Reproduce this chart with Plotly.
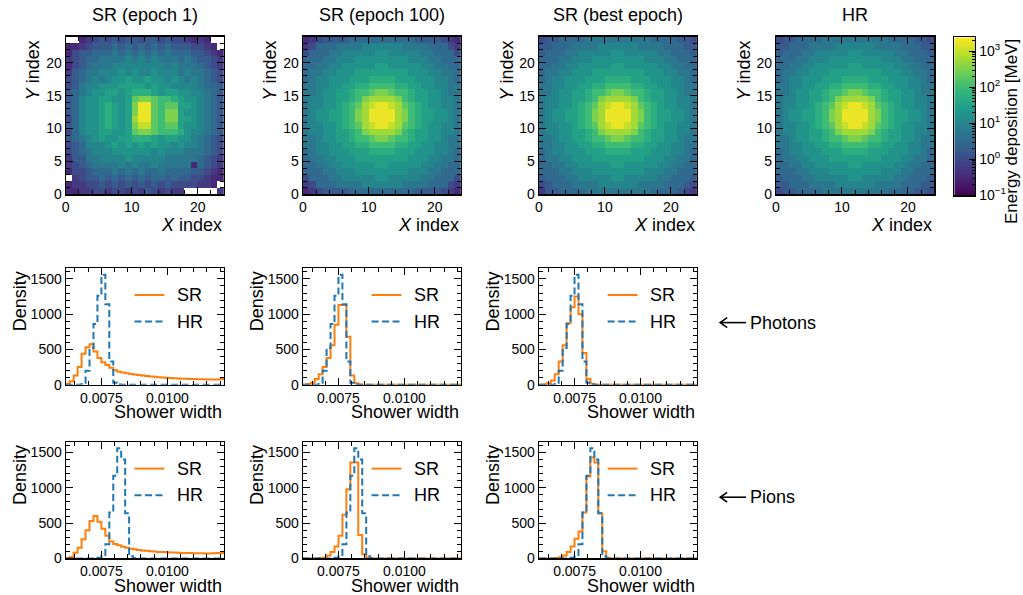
import numpy as np
import plotly.graph_objects as go

W, H = 1023, 595
FONT = "Liberation Sans, Arial, Helvetica, sans-serif"

# ---------------- heat-map data ----------------
# one character per cell: level k -> log10(E / MeV) = -1 + 0.25 * k ; '.' = empty cell
# rows listed from the top (Y = 23) down to the bottom (Y = 0), X = 0..23 left to right
LEVEL_CODE = "0123456789abcdefghi"
Z_MIN, Z_MAX = -1.0, 3.38

SR_EPOCH1_ROWS = [
    "..2345 454554 554544 3232..",
    "223455 565656 565655 54432.",
    "245566 676767 676766 655432",
    "345667 777878 787776 765543",
    "245677 788888 888787 776543",
    "356778 889898 898887 877654",
    "456787 899a99 a99898 787654",
    "457889 99aaaa 9a9988 887665",
    "567899 aa9abb ba9aa9 988765",
    "56899a a99ade edccba 998765",
    "56899a ba9aeh hdcdda a98765",
    "56899a ba9aeh hdceea 998765",
    "46899a ba9afh hdceea a98765",
    "56899a ba9aeg gdcdda 998765",
    "46899a a99ade edcccb 988765",
    "56789a 99aabb ba9aa9 987654",
    "456888 9a9a9a 9a9989 887654",
    "456788 899999 989888 777654",
    "355778 888988 888777 776543",
    "345677 778787 787777 726543",
    "244566 676767 667666 655432",
    ".34556 565656 566565 544322",
    "233445 454545 454544 44332.",
    "223344 344343 543433 .....3",
]

SR_EPOCH100_ROWS = [
    "234555 566666 666665 555432",
    "346667 777888 888777 766643",
    "466677 888889 988888 776664",
    "666778 889999 999988 877666",
    "667788 99999a a99999 887766",
    "677889 99aaaa aaaa99 988776",
    "678899 9aaabb bbaaa9 998876",
    "778899 aabbcc ccbbaa 998877",
    "77899a abccde edccba a99877",
    "78899a abceff ffecba a99887",
    "78899a bcdfgh hgfdcb a99887",
    "7899aa bcefhh hhfecb aa9987",
    "7899aa bcefhh hhfecb aa9987",
    "78899a bcdfgh hgfdcb a99887",
    "78899a abceff ffecba a99887",
    "77899a abccde edccba a99877",
    "778899 aabbcc ccbbaa 998877",
    "678899 9aaabb bbaaa9 998876",
    "677889 99aaaa aaaa99 988776",
    "667788 99999a a99999 887766",
    "666778 889999 999988 877666",
    "466677 888889 988888 776664",
    "346667 777888 888777 766643",
    "234555 566666 666665 555432",
]

SR_BEST_ROWS = [
    "455666 677777 777776 666554",
    "556667 777888 888777 766655",
    "566677 888889 988888 776665",
    "666778 889999 999988 877666",
    "667788 99999a a99999 887766",
    "677889 99aaaa aaaa99 988776",
    "678899 9aaabb bbaaa9 998876",
    "778899 aabbcc ccbbaa 998877",
    "77899a abccde edccba a99877",
    "78899a abceff ffecba a99887",
    "78899a bcdfgh hgfdcb a99887",
    "7899aa bcefhh hhfecb aa9987",
    "7899aa bcefhh hhfecb aa9987",
    "78899a bcdfgh hgfdcb a99887",
    "78899a abceff ffecba a99887",
    "77899a abccde edccba a99877",
    "778899 aabbcc ccbbaa 998877",
    "678899 9aaabb bbaaa9 998876",
    "677889 99aaaa aaaa99 988776",
    "667788 99999a a99999 887766",
    "666778 889999 999988 877666",
    "566677 888889 988888 776665",
    "456667 777888 888777 766654",
    "355666 677777 777776 666543",
]

HR_ROWS = [
    "455666 677777 777776 666554",
    "556667 777888 888777 766655",
    "566677 888889 988888 776665",
    "666778 889999 999988 877666",
    "667788 99999a a99999 887766",
    "677889 99aaaa aaaa99 988776",
    "678899 9aaabb bbaaa9 998876",
    "778899 aabbcc ccbbaa 998877",
    "77899a abccde edccba a99877",
    "78899a abceff ffecba a99887",
    "78899a bcdfgh hgfdcb a99887",
    "7899aa bcefhh hhfecb aa9987",
    "7899aa bcefhh hhfecb aa9987",
    "78899a bcdfgh hgfdcb a99887",
    "78899a abceff ffecba a99887",
    "77899a abccde edccba a99877",
    "778899 aabbcc ccbbaa 998877",
    "678899 9aaabb bbaaa9 998876",
    "677889 99aaaa aaaa99 988776",
    "667788 99999a a99999 887766",
    "666778 889999 999988 877666",
    "566677 888889 988888 776665",
    "556667 777888 888777 766655",
    "455666 677777 777776 666554",
]

HEAT_TITLES = ["SR (epoch 1)", "SR (epoch 100)", "SR (best epoch)", "HR"]
HEAT_DATA = [SR_EPOCH1_ROWS, SR_EPOCH100_ROWS, SR_BEST_ROWS, HR_ROWS]
N_CELLS = 24

# ---------------- histogram data (density per bin) ----------------
BIN_LO, BIN_W, N_BINS = 0.00615, 0.00015, 40

PH_HR = [0, 0, 0, 0, 30, 200, 520, 860, 1260, 1560,
         1140, 330, 30, 3, 0, 0, 0, 0, 0, 0,
         0, 0, 0, 0, 0, 0, 0, 0, 0, 0,
         0, 0, 0, 0, 0, 0, 0, 0, 0, 0]
PI_HR = [0, 0, 0, 0, 0, 0, 0, 0, 10, 30,
         200, 650, 1170, 1560, 1400, 640, 30, 3, 0, 0,
         0, 0, 0, 0, 0, 0, 0, 0, 0, 0,
         0, 0, 0, 0, 0, 0, 0, 0, 0, 0]

PH_SR_E1 = [15, 50, 130, 250, 440, 530, 575, 470, 380, 320,
            280, 240, 205, 185, 172, 162, 153, 145, 138, 130,
            123, 117, 112, 107, 102, 98, 95, 92, 89, 86,
            84, 82, 80, 78, 77, 76, 75, 75, 76, 82]
PH_SR_E100 = [0, 10, 30, 80, 150, 250, 380, 560, 850, 1130,
              1130, 680, 130, 20, 3, 0, 0, 0, 0, 0,
              0, 0, 0, 0, 0, 0, 0, 0, 0, 0,
              0, 0, 0, 0, 0, 0, 0, 0, 0, 0]
PH_SR_BEST = [0, 5, 20, 60, 150, 330, 560, 870, 1100, 1250,
              1000, 450, 80, 15, 0, 0, 0, 0, 0, 0,
              0, 0, 0, 0, 0, 0, 0, 0, 0, 0,
              0, 0, 0, 0, 0, 0, 0, 0, 0, 0]

PI_SR_E1 = [5, 20, 80, 150, 270, 400, 530, 600, 520, 420,
            320, 240, 205, 185, 165, 150, 138, 128, 120, 113,
            107, 101, 96, 92, 89, 86, 84, 82, 80, 78,
            76, 75, 74, 73, 72, 71, 71, 72, 75, 78]
PI_SR_E100 = [0, 0, 0, 0, 5, 10, 40, 90, 170, 320,
              620, 980, 1360, 1360, 330, 60, 10, 0, 0, 0,
              0, 0, 0, 0, 0, 0, 0, 0, 0, 0,
              0, 0, 0, 0, 0, 0, 0, 0, 0, 0]
PI_SR_BEST = [0, 0, 0, 0, 5, 15, 40, 90, 170, 280,
              380, 650, 1160, 1430, 1360, 640, 100, 10, 0, 0,
              0, 0, 0, 0, 0, 0, 0, 0, 0, 0,
              0, 0, 0, 0, 0, 0, 0, 0, 0, 0]

HIST_SR = [[PH_SR_E1, PH_SR_E100, PH_SR_BEST], [PI_SR_E1, PI_SR_E100, PI_SR_BEST]]
HIST_HR = [PH_HR, PI_HR]
ROW_LABELS = ["Photons", "Pions"]

HIST_XRANGE = [0.00615, 0.01215]
HIST_YRANGE = [0, 1650]
HIST_XTICKS = [0.0075, 0.0100]
HIST_XTICKTEXT = ["0.0075", "0.0100"]
HIST_XMINOR = [0.0065, 0.0070, 0.0080, 0.0085, 0.0090, 0.0095, 0.0105, 0.0110, 0.0115, 0.0120]
HIST_YTICKS = [0, 500, 1000, 1500]

SR_COLOR = "#ff7f0e"
HR_COLOR = "#1f77b4"

# ---------------- layout geometry (pixels) ----------------
COL_LEFT = [62, 300, 537, 775]
PANEL_W = 159
HEAT_TOP, HEAT_BOT = 37, 197
HIST_ROWS = [(272, 390), (448, 566)]
ROW_MARK_Y = [327, 504]
CB_X0, CB_X1, CB_Y0, CB_Y1 = 954, 975, 38, 198


def fx(p):
    return p / W


def fy(p):
    return 1 - p / H


def decode(rows):
    grid = []
    for r in rows:
        r = r.replace(" ", "")
        assert len(r) == N_CELLS, r
        grid.append([np.nan if ch == "." else -1 + 0.25 * LEVEL_CODE.index(ch) for ch in r])
    return np.array(grid[::-1])


def step_xy(vals):
    edges = BIN_LO + BIN_W * np.arange(N_BINS + 1)
    xs = [edges[0]] + list(edges[:-1]) + [edges[-1]]
    ys = [0] + list(vals) + [vals[-1]]
    return xs, ys


BLACK = "black"
tickfont = dict(family=FONT, size=14, color=BLACK)
base_axis = dict(showline=True, linecolor=BLACK, linewidth=1.2, mirror="allticks",
                 ticks="inside", ticklen=7, tickwidth=1, tickcolor=BLACK,
                 tickfont=tickfont, showgrid=False, zeroline=False, fixedrange=True)

fig = go.Figure()
layout = {}
annotations = []
shapes = []


def names(n):
    if n == 1:
        return "x", "y", "xaxis", "yaxis"
    return f"x{n}", f"y{n}", f"xaxis{n}", f"yaxis{n}"


def label(text, x, y, size=18, xanchor="center", yanchor="middle", angle=0):
    annotations.append(dict(text=text, x=fx(x), y=fy(y), xref="paper", yref="paper",
                            showarrow=False, xanchor=xanchor, yanchor=yanchor,
                            textangle=angle, font=dict(family=FONT, size=size, color=BLACK)))


centers = np.arange(N_CELLS) + 0.5
n = 0
# ---- heat maps ----
for c in range(4):
    n += 1
    xn, yn, xk, yk = names(n)
    left = COL_LEFT[c]
    fig.add_trace(go.Heatmap(z=decode(HEAT_DATA[c]), x=centers, y=centers,
                             colorscale="Viridis", zmin=Z_MIN, zmax=Z_MAX,
                             showscale=False, hoverinfo="skip", xaxis=xn, yaxis=yn))
    layout[xk] = dict(base_axis, domain=[fx(left), fx(left + PANEL_W)], anchor=yn,
                      range=[0, N_CELLS], tickmode="array", tickvals=[0, 10, 20],
                      minor=dict(tick0=0, dtick=2, ticks="inside", ticklen=4,
                                 tickcolor=BLACK, tickwidth=1))
    layout[yk] = dict(base_axis, domain=[fy(HEAT_BOT), fy(HEAT_TOP)], anchor=xn,
                      range=[0, N_CELLS], tickmode="array", tickvals=[0, 5, 10, 15, 20],
                      minor=dict(tick0=0, dtick=1, ticks="inside", ticklen=4,
                                 tickcolor=BLACK, tickwidth=1))
    label(HEAT_TITLES[c], left + PANEL_W / 2, 15)
    label("<i>X</i> index", left + PANEL_W, 228, xanchor="right")
    label("<i>Y</i> index", left - 32, HEAT_TOP + 2, xanchor="center", yanchor="top", angle=-90)

# ---- histograms ----
for r, (top, bot) in enumerate(HIST_ROWS):
    for c in range(3):
        n += 1
        xn, yn, xk, yk = names(n)
        left = COL_LEFT[c]
        xs, ys = step_xy(HIST_SR[r][c])
        fig.add_trace(go.Scatter(x=xs, y=ys, mode="lines", line=dict(color=SR_COLOR, width=2, shape="hv"),
                                 showlegend=False, hoverinfo="skip", xaxis=xn, yaxis=yn))
        xs, ys = step_xy(HIST_HR[r])
        fig.add_trace(go.Scatter(x=xs, y=ys, mode="lines",
                                 line=dict(color=HR_COLOR, width=2, shape="hv", dash="7px,3.5px"),
                                 showlegend=False, hoverinfo="skip", xaxis=xn, yaxis=yn))
        layout[xk] = dict(base_axis, domain=[fx(left), fx(left + PANEL_W)], anchor=yn,
                          range=HIST_XRANGE, tickmode="array", tickvals=HIST_XTICKS,
                          ticktext=HIST_XTICKTEXT,
                          minor=dict(tickmode="array", tickvals=HIST_XMINOR, ticks="inside",
                                     ticklen=4, tickcolor=BLACK, tickwidth=1))
        layout[yk] = dict(base_axis, domain=[fy(bot), fy(top)], anchor=xn,
                          range=HIST_YRANGE, tickmode="array", tickvals=HIST_YTICKS,
                          minor=dict(tick0=0, dtick=100, ticks="inside", ticklen=4,
                                     tickcolor=BLACK, tickwidth=1))
        # legend
        for k, (txt, col, dash) in enumerate([("SR", SR_COLOR, "solid"), ("HR", HR_COLOR, "7px,3.5px")]):
            yy = top + 27 + 27 * k
            shapes.append(dict(type="line", xref="paper", yref="paper",
                               x0=fx(left + 69), x1=fx(left + 99), y0=fy(yy), y1=fy(yy),
                               line=dict(color=col, width=2, dash=dash)))
            label(txt, left + 110, yy, xanchor="left")
        label("Shower width", left + PANEL_W, bot + 28, xanchor="right")
        label("Density", left - 46, top + 1, xanchor="center", yanchor="top", angle=-90)
    # row marker: arrow + label
    ym = ROW_MARK_Y[r]
    shapes.append(dict(type="line", xref="paper", yref="paper",
                       x0=fx(719), x1=fx(745), y0=fy(ym), y1=fy(ym),
                       line=dict(color=BLACK, width=1.6)))
    shapes.append(dict(type="path", xref="paper", yref="paper",
                       path=f"M {fx(726)} {fy(ym - 5)} L {fx(719)} {fy(ym)} L {fx(726)} {fy(ym + 5)}",
                       line=dict(color=BLACK, width=1.6)))
    label(ROW_LABELS[r], 747, ym, xanchor="left")

# ---- colour bar (drawn as its own axis) ----
n += 1
xn, yn, xk, yk = names(n)
cb_levels = np.linspace(Z_MIN, Z_MAX, 256)
fig.add_trace(go.Heatmap(z=cb_levels.reshape(-1, 1), x=[0], y=cb_levels, colorscale="Viridis",
                         zmin=Z_MIN, zmax=Z_MAX, showscale=False, hoverinfo="skip",
                         xaxis=xn, yaxis=yn))
cb_minor = [float(np.log10(m * 10.0 ** d)) for d in range(-1, 4) for m in range(2, 10)
            if np.log10(m * 10.0 ** d) < Z_MAX]
layout[xk] = dict(domain=[fx(CB_X0), fx(CB_X1)], anchor=yn, range=[-0.5, 0.5],
                  showline=True, linecolor=BLACK, linewidth=1.2, mirror=True,
                  ticks="", showticklabels=False, showgrid=False, zeroline=False)
layout[yk] = dict(domain=[fy(CB_Y1), fy(CB_Y0)], anchor=xn, side="right",
                  range=[Z_MIN, Z_MAX], showline=True, linecolor=BLACK, linewidth=1.2,
                  mirror=True, ticks="inside", ticklen=6, tickwidth=1, tickcolor=BLACK,
                  tickmode="array", tickvals=[-1, 0, 1, 2, 3],
                  ticktext=["10<sup>\u22121</sup>", "10<sup>0</sup>", "10<sup>1</sup>",
                            "10<sup>2</sup>", "10<sup>3</sup>"],
                  tickfont=tickfont, showgrid=False, zeroline=False,
                  minor=dict(tickmode="array", tickvals=cb_minor, ticks="inside",
                             ticklen=3, tickcolor=BLACK, tickwidth=1))
label("Energy deposition [MeV]", 1012, CB_Y0, size=17, xanchor="center", yanchor="top", angle=-90)

fig.update_layout(width=W, height=H, margin=dict(l=0, r=0, t=0, b=0),
                  paper_bgcolor="white", plot_bgcolor="white",
                  font=dict(family=FONT, color=BLACK),
                  annotations=annotations, shapes=shapes, showlegend=False, **layout)

fig.write_html("out.html", config={"displayModeBar": False, "staticPlot": True},
               post_script="document.body.style.margin='0';document.body.style.overflow='hidden';")
